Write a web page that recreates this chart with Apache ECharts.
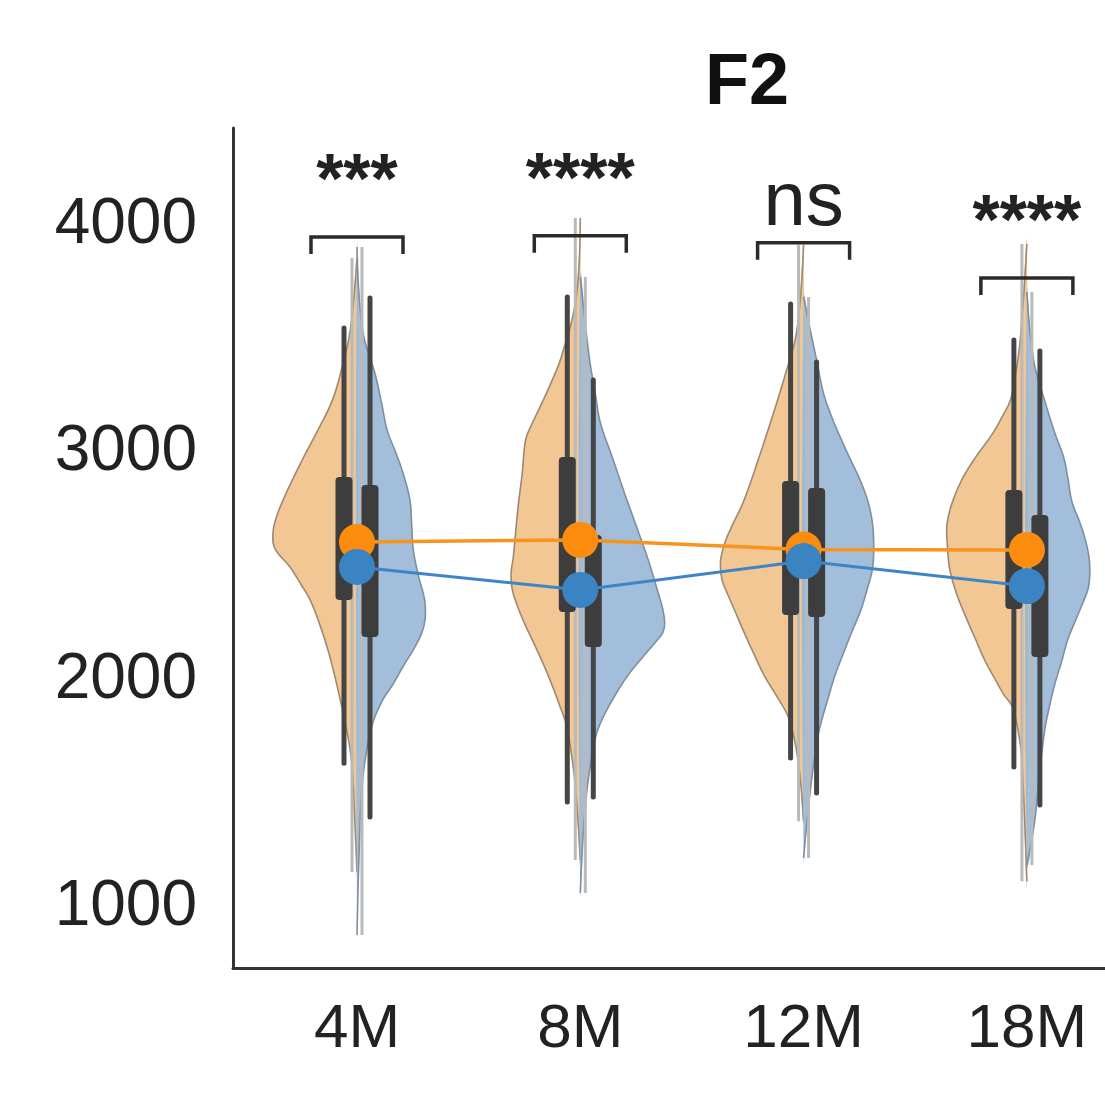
<!DOCTYPE html>
<html><head><meta charset="utf-8">
<script src="https://cdn.jsdelivr.net/npm/echarts@6/dist/echarts.min.js"></script>
<style>html,body{margin:0;padding:0;background:#fff}#c{width:1105px;height:1098px}</style>
</head><body><div id="c"></div>
<script>
const categories = ['4M', '8M', '12M', '18M'];
const yTicks = [1000, 2000, 3000, 4000];
const sigLabels = ['***', '****', 'ns', '****'];
const bracketY = [3930, 3935, 3904, 3749];
const orangeMean = [2588, 2597, 2555, 2553];
const blueMean = [2478, 2377, 2504, 2394];
// [min, lower whisker, q1, q3, upper whisker, max]
const orangeBox = [
  [1136, 1615, 2333, 2874, 3529, 3837],
  [1189, 1444, 2280, 2962, 3666, 4013],
  [1360, 1638, 2267, 2856, 3635, 3894],
  [1096, 1598, 2293, 2817, 3476, 3899]
];
const blueBox = [
  [859, 1378, 2170, 2839, 3661, 3886],
  [1044, 1466, 2126, 2619, 3300, 3754],
  [1198, 1484, 2258, 2825, 3380, 3666],
  [1167, 1431, 2082, 2707, 3428, 3688]
];
// density profile: [value, half width as fraction of category spacing]
const orangeViolin = [
  [[3837,0],[3520,0.03],[3344,0.07],[3212,0.11],[3080,0.175],[2949,0.245],[2786,0.325],[2700,0.36],[2630,0.376],[2560,0.368],[2478,0.30],[2400,0.25],[2333,0.21],[2220,0.165],[2113,0.13],[2000,0.10],[1893,0.075],[1805,0.055],[1629,0.025],[1365,0.01],[1136,0]],
  [[4013,0],[3652,0.02],[3402,0.085],[3290,0.13],[3182,0.18],[3100,0.22],[3037,0.245],[2891,0.26],[2729,0.28],[2522,0.30],[2451,0.31],[2380,0.305],[2302,0.28],[2230,0.25],[2157,0.215],[2011,0.148],[1862,0.09],[1774,0.06],[1541,0.025],[1189,0]],
  [[3894,0],[3520,0.03],[3331,0.08],[3142,0.139],[2953,0.202],[2764,0.27],[2660,0.32],[2592,0.35],[2520,0.37],[2473,0.372],[2420,0.365],[2381,0.35],[2290,0.31],[2187,0.265],[2090,0.22],[1998,0.175],[1901,0.115],[1809,0.065],[1629,0.025],[1360,0]],
  [[3899,0],[3476,0.03],[3300,0.055],[3208,0.075],[3140,0.11],[3067,0.152],[2960,0.23],[2865,0.29],[2760,0.335],[2663,0.358],[2560,0.355],[2465,0.345],[2360,0.315],[2262,0.275],[2160,0.23],[2060,0.185],[1980,0.14],[1919,0.105],[1862,0.065],[1700,0.03],[1585,0.02],[1096,0]]
];
const blueViolin = [
  [[3886,0],[3520,0.025],[3331,0.08],[3200,0.11],[3080,0.135],[2990,0.17],[2904,0.202],[2773,0.237],[2660,0.245],[2553,0.252],[2440,0.275],[2333,0.303],[2250,0.305],[2187,0.29],[2110,0.25],[2038,0.205],[1960,0.16],[1893,0.115],[1774,0.065],[1541,0.025],[1233,0.01],[859,0]],
  [[3754,0],[3400,0.04],[3243,0.067],[3111,0.09],[2962,0.143],[2817,0.193],[2671,0.246],[2522,0.30],[2377,0.345],[2290,0.37],[2231,0.378],[2190,0.37],[2157,0.345],[2082,0.28],[2010,0.22],[1937,0.17],[1860,0.125],[1791,0.09],[1717,0.065],[1453,0.025],[1044,0]],
  [[3666,0],[3520,0.03],[3380,0.06],[3239,0.09],[3140,0.125],[3045,0.166],[2950,0.21],[2856,0.255],[2760,0.29],[2667,0.309],[2570,0.314],[2473,0.309],[2380,0.285],[2284,0.255],[2190,0.215],[2095,0.177],[2000,0.14],[1901,0.11],[1800,0.08],[1712,0.06],[1453,0.025],[1198,0]],
  [[3688,0],[3388,0.03],[3208,0.08],[3067,0.125],[2960,0.165],[2865,0.184],[2764,0.202],[2680,0.235],[2605,0.26],[2530,0.277],[2465,0.282],[2400,0.278],[2363,0.268],[2260,0.225],[2161,0.184],[2060,0.155],[1963,0.125],[1860,0.10],[1761,0.08],[1558,0.055],[1360,0.035],[1167,0]]
];

const FONT = "'Liberation Sans', Arial, Helvetica, sans-serif";
const chart = echarts.init(document.getElementById('c'), null, { renderer: 'svg' });

function violinSeries(profiles, side, fill, edge) {
  return {
    type: 'custom', z: 1, silent: true,
    data: categories.map((c, i) => [i]),
    renderItem: function (params, api) {
      const i = params.dataIndex;
      const prof = profiles[i];
      const pts = prof.map(p => api.coord([i + side * p[1], p[0]]));
      return {
        type: 'group', children: [
          { type: 'polygon', shape: { points: pts, smooth: 0.4 }, style: { fill: fill, stroke: null } },
          { type: 'polyline', shape: { points: pts, smooth: 0.4 }, style: { fill: null, stroke: edge, lineWidth: 1.6 } }
        ]
      };
    }
  };
}

function boxSeries(stats, side) {
  return {
    type: 'custom', z: 3, silent: true,
    data: categories.map((c, i) => [i]),
    renderItem: function (params, api) {
      const i = params.dataIndex;
      const s = stats[i];
      const cx = api.coord([i, s[0]])[0];
      const y = v => api.coord([i, v])[1];
      const gx = cx + side * 5;
      const dx = cx + side * 13;
      return {
        type: 'group', children: [
          { type: 'line', shape: { x1: gx, y1: y(s[5]), x2: gx, y2: y(s[0]) }, style: { stroke: '#b9b9b9', lineWidth: 3 } },
          { type: 'line', shape: { x1: dx, y1: y(s[4]), x2: dx, y2: y(s[1]) }, style: { stroke: '#454545', lineWidth: 5, lineCap: 'round' } },
          { type: 'rect', shape: { x: dx - 8.5, y: y(s[3]), width: 17, height: y(s[2]) - y(s[3]), r: 4 }, style: { fill: '#3d3d3d' } }
        ]
      };
    }
  };
}

const bracketSeries = {
  type: 'custom', z: 6, silent: true,
  data: categories.map((c, i) => [i]),
  renderItem: function (params, api) {
    const i = params.dataIndex;
    const p = api.coord([i, bracketY[i]]);
    const cx = p[0], by = p[1];
    const isNs = sigLabels[i] === 'ns';
    return {
      type: 'group', children: [
        { type: 'polyline', shape: { points: [[cx - 46, by + 17], [cx - 46, by], [cx + 46, by], [cx + 46, by + 17]] }, style: { fill: null, stroke: '#2b2b2b', lineWidth: 3.5 } },
        { type: 'text', style: { text: sigLabels[i], x: cx, y: by - (isNs ? 44 : 58), align: 'center', verticalAlign: 'middle', fontSize: isNs ? 76 : 70, fontWeight: isNs ? 'normal' : 'bold', fontFamily: FONT, fill: '#222' } }
      ]
    };
  }
};

const option = {
  animation: false,
  backgroundColor: '#fff',
  title: {
    text: 'F2', left: 742, top: 38, textAlign: 'center',
    textStyle: { fontFamily: FONT, fontSize: 72, fontWeight: 'bold', color: '#111' }
  },
  grid: { left: 233, right: 0, top: 128, bottom: 130, containLabel: false },
  xAxis: {
    type: 'value', min: -0.5553, max: 3.3498,
    splitLine: { show: false }, axisTick: { show: false },
    axisLine: { show: true, onZero: false, lineStyle: { color: '#333', width: 3 } },
    axisLabel: {
      customValues: [0, 1, 2, 3], formatter: v => categories[Math.round(v)],
      fontSize: 62, color: '#222', margin: 26, fontFamily: FONT
    }
  },
  yAxis: {
    type: 'value', min: 714, max: 4409,
    splitLine: { show: false }, axisTick: { show: false },
    axisLine: { show: true, onZero: false, lineStyle: { color: '#333', width: 3 } },
    axisLabel: { customValues: yTicks, formatter: v => String(v), fontSize: 64, color: '#222', margin: 36, fontFamily: FONT }
  },
  series: [
    violinSeries(orangeViolin, -1, 'rgba(241,193,135,0.9)', '#9c8a74'),
    violinSeries(blueViolin, 1, 'rgba(152,183,214,0.9)', '#7d8fa3'),
    boxSeries(orangeBox, -1),
    boxSeries(blueBox, 1),
    {
      type: 'line', z: 4, data: orangeMean.map((m, i) => [i, m]),
      symbol: 'circle', symbolSize: 36, itemStyle: { color: '#fb8c0e' },
      lineStyle: { color: '#f7941d', width: 3.5 }, silent: true
    },
    {
      type: 'line', z: 5, data: blueMean.map((m, i) => [i, m]),
      symbol: 'circle', symbolSize: 36, itemStyle: { color: '#3a84c4' },
      lineStyle: { color: '#3d85c6', width: 3 }, silent: true
    },
    bracketSeries
  ]
};
chart.setOption(option);
</script>
</body></html>
